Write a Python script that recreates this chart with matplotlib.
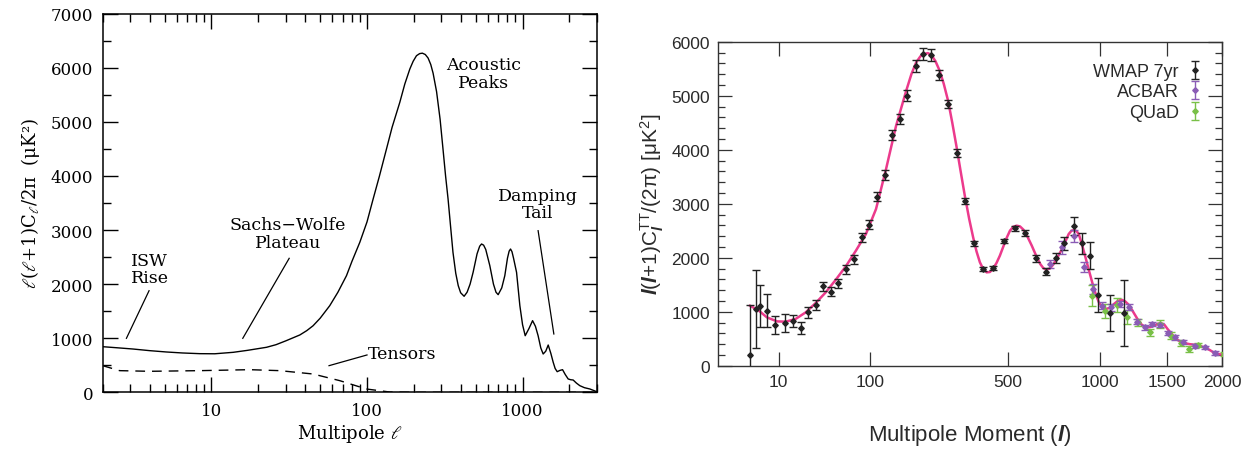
import numpy as np
import matplotlib
matplotlib.use("Agg")
import matplotlib.pyplot as plt
from matplotlib.ticker import FixedLocator, NullLocator, MultipleLocator

plt.rcParams['mathtext.fontset'] = 'custom'
plt.rcParams['mathtext.rm'] = 'Liberation Sans'
plt.rcParams['mathtext.it'] = 'Liberation Sans:italic'
plt.rcParams['mathtext.bf'] = 'Liberation Sans:bold'
plt.rcParams['mathtext.bfit'] = 'Liberation Sans:italic:bold'

# ---- left panel: theory spectrum ----
theory_l = [2, 2.5, 3.13, 4, 5.14, 6.5, 8.41, 10.5, 13.8, 17, 22.6, 26, 30, 37, 41, 45,
            50, 57.6, 65, 73.8, 80, 89.9,
            100, 109.5, 120, 133.4, 145, 162.5, 175, 188.5, 198, 208, 218, 227, 237,
            247, 257, 266, 280, 295, 308, 320, 332, 345, 357, 372, 386, 400, 421,
            440, 460, 481, 510, 530, 545, 562, 580, 616, 650, 675, 697, 735, 769,
            800, 820, 837, 855, 875, 915, 961, 1000, 1040, 1100, 1160, 1210, 1259,
            1310, 1357, 1410, 1462, 1520, 1574, 1620, 1670, 1740, 1808, 1880, 1965,
            2040, 2115, 2220, 2335, 2500, 2708, 3000]
theory_D = [843, 822, 800, 770, 745, 727, 714, 712, 739, 775, 832, 880, 950, 1060, 1140,
            1230, 1370, 1601, 1850, 2156, 2420,
            2773, 3150, 3574, 3990, 4498, 4900, 5361, 5700, 5977, 6120, 6223, 6262, 6270,
            6245, 6180, 6060, 5900, 5560, 5050, 4498, 4000, 3574, 3050, 2588, 2200, 1971,
            1840, 1775, 1850, 2000, 2218, 2560, 2700, 2742, 2720, 2640, 2341, 2000, 1850,
            1805, 1930, 2156, 2480, 2610, 2649, 2600, 2480, 2218, 1601, 1250, 1046, 1180,
            1324, 1220, 1046, 820, 708, 760, 874, 720, 555, 440, 381, 405, 418, 330, 246,
            232, 227, 170, 122, 85, 61, 11]

tensor_l = [2, 2.57, 4, 8.4, 17.6, 27.5, 45, 66.8, 99, 140, 200, 3000]
tensor_D = [492, 400, 388, 400, 418, 400, 338, 215, 61, 5, 0, 0]

# ---- right panel: WMAP 7yr / ACBAR / QUaD band powers ----
wmap_l = [2, 3, 4, 5.8, 8.7, 12.7, 16.9, 21.6, 26.7, 32.9, 39.7, 47.5, 55.5, 64.5,
          75.6, 86.9, 98.4, 111.5, 125.4, 140.5, 155.8, 172.9, 191.9, 211.3, 232.6,
          255.2, 280.9, 308.4, 336.4, 366.7, 401, 440, 484.6, 532.8, 580.5, 633, 682,
          733.6, 782.5, 836, 886, 938, 985, 1063, 1164]
wmap_D = [200, 1050, 1110, 1020, 755, 790, 833, 692, 988, 1124, 1470, 1370, 1526, 1785,
          1970, 2378, 2615, 3130, 3537, 4272, 4568, 5000, 5556, 5772, 5754,
          5383, 4846, 3939, 3044, 2266, 1790, 1815, 2309, 2544, 2451, 1988, 1741,
          1994, 2272, 2593, 2266, 2037, 1309, 976, 976]
wmap_err = [920, 730, 390, 300, 170, 160, 110, 110, 100, 95, 80, 85, 85, 85,
            85, 80, 80, 85, 90, 95, 100, 105, 110, 110, 105,
            90, 75, 65, 55, 45, 40, 40, 45, 50, 55, 60, 70,
            90, 120, 170, 200, 250, 320, 340, 610]

acbar_l = [705, 769, 836, 896, 955, 1014, 1074, 1135, 1200, 1263, 1319, 1379, 1441,
           1502, 1565, 1637, 1743, 1838, 1933]
acbar_D = [1883, 2192, 2396, 1822, 1420, 1111, 1080, 1142, 1080, 815, 711, 772, 754,
           605, 525, 433, 370, 340, 235]
acbar_err = [80, 120, 110, 90, 90, 60, 60, 55, 55, 50, 45, 45, 45, 40, 40, 35, 35, 30, 30]

quad_l = [949, 1032, 1116, 1188, 1270, 1357, 1441, 1530, 1617, 1690, 1773, 2014]
quad_D = [1296, 1019, 1124, 896, 803, 618, 772, 556, 420, 309, 383, 216]
quad_err = [190, 130, 130, 130, 70, 70, 80, 60, 50, 50, 45, 40]

model_l = [2, 3.7, 5.8, 9.3, 13, 18.4, 25.1, 32.9, 42, 52.6, 64.5, 78, 93, 109.7,
           128, 148, 170, 182, 193.4, 204, 214.6, 223, 232.6, 244, 256, 268, 281, 294,
           307, 321, 335, 350, 364, 376, 388.6, 401, 414, 427, 440, 453, 467, 481,
           495, 510, 525, 540, 555, 571, 590, 611, 632, 653, 668, 683, 703, 723, 746,
           769, 788, 807, 823, 840, 853, 866, 885, 907, 928, 949, 970, 992, 1013, 1036,
           1063, 1093, 1120, 1147, 1173, 1200, 1230, 1263, 1295, 1327, 1360, 1392,
           1420, 1447, 1475, 1502, 1537, 1573, 1610, 1646, 1690, 1736, 1780, 1829,
           1880, 1926, 1970, 2014]
model_D = [1111, 1019, 895, 821, 815, 864, 988, 1161, 1358, 1593, 1840, 2130, 2438, 2901,
           3642, 4444, 5093, 5400, 5617, 5730, 5772, 5790, 5754, 5640, 5463, 5220, 4907,
           4500, 4074, 3600, 3148, 2720, 2378, 2120, 1915, 1790, 1729, 1735, 1803, 1900,
           2037, 2200, 2360, 2500, 2575, 2593, 2580, 2519, 2390, 2222, 2040, 1883, 1810,
           1778, 1800, 1883, 2020, 2161, 2300, 2439, 2500, 2513, 2490, 2439, 2250, 2007,
           1770, 1544, 1340, 1174, 1080, 1050, 1070, 1142, 1200, 1222, 1190, 1124, 1000,
           864, 760, 711, 715, 741, 775, 790, 760, 679, 590, 494, 450, 420, 400, 389,
           370, 340, 290, 235, 215, 198]

fig = plt.figure(figsize=(12.59, 4.52), dpi=100)

# ================= left panel =================
serif = 'DejaVu Serif'
ax1 = fig.add_axes([0.0816, 0.1299, 0.3924, 0.8376])
ax1.plot(theory_l, theory_D, color='black', lw=1.0)
ax1.plot(tensor_l, tensor_D, color='black', lw=1.0, dashes=(7, 5))
ax1.set_xscale('log')
ax1.set_xlim(2, 3000)
ax1.set_ylim(0, 7000)
ax1.set_xticks([10, 100, 1000])
ax1.set_xticklabels(['10', '100', '1000'])
ax1.yaxis.set_major_locator(MultipleLocator(1000))
ax1.yaxis.set_minor_locator(MultipleLocator(500))
ax1.tick_params(which='both', direction='in', top=True, right=True, width=1.0)
ax1.tick_params(which='major', length=11, labelsize=12, pad=7)
ax1.tick_params(which='minor', length=6)
for lab in ax1.get_xticklabels() + ax1.get_yticklabels():
    lab.set_family(serif)
for s in ax1.spines.values():
    s.set_linewidth(1.1)
ax1.set_xlabel(r'Multipole $\ell$', family=serif, fontsize=13, labelpad=2,
               math_fontfamily='dejavuserif')
ax1.set_ylabel(r'$\ell(\ell$+1)C$_\ell$/2π  (μK²)', family=serif, fontsize=13,
               labelpad=6, math_fontfamily='dejavuserif')

notes = [('ISW\nRise', (4.0, 2280), (3.97, 1878), (2.84, 998)),
         ('Sachs\u2212Wolfe\nPlateau', (31, 2930), (31.6, 2477), (15.9, 998)),
         ('Acoustic\nPeaks', (564, 5900), None, None),
         ('Damping\nTail', (1254, 3480), (1259, 2988), (1589, 1078))]
for txt, pos, p0, p1 in notes:
    ax1.text(pos[0], pos[1], txt, family=serif, fontsize=12.5, ha='center',
             va='center', linespacing=1.05)
    if p0 is not None:
        ax1.plot([p0[0], p1[0]], [p0[1], p1[1]], color='black', lw=0.9)
ax1.text(101, 710, 'Tensors', family=serif, fontsize=12.5, ha='left', va='center')
ax1.plot([100, 57], [690, 492], color='black', lw=0.9)

# ================= right panel =================
sans = 'Liberation Sans'
ink = '#2a2a2a'
ax2 = fig.add_axes([0.5705, 0.1887, 0.4002, 0.7168])
ax2.set_xscale('function', functions=(lambda v: np.power(np.clip(v, 0, None), 0.4),
                                      lambda u: np.power(np.clip(u, 0, None), 2.5)))
ax2.plot(model_l, model_D, color='#ec3a8c', lw=1.8, zorder=2)
eb = dict(fmt='D', markersize=2.8, capsize=3.2, elinewidth=1.0, capthick=1.0, zorder=3)
ax2.errorbar(quad_l, quad_D, yerr=quad_err, color='#79c047', label='QUaD', **eb)
ax2.errorbar(acbar_l, acbar_D, yerr=acbar_err, color='#8a5cb5', label='ACBAR', **eb)
ax2.errorbar(wmap_l, wmap_D, yerr=wmap_err, color='#222222', label='WMAP 7yr', **eb)
ax2.set_xlim(0, 2000)
ax2.set_ylim(0, 6000)
ax2.xaxis.set_major_locator(FixedLocator([10, 100, 500, 1000, 1500, 2000]))
ax2.set_xticklabels(['10', '100', '500', '1000', '1500', '2000'])
ax2.xaxis.set_minor_locator(NullLocator())
ax2.yaxis.set_major_locator(MultipleLocator(1000))
ax2.yaxis.set_minor_locator(MultipleLocator(200))
ax2.tick_params(which='both', direction='in', top=True, right=True, colors='#333333',
                labelcolor=ink, width=0.9)
ax2.tick_params(which='major', length=10, labelsize=12.5, pad=6)
ax2.tick_params(which='minor', length=5)
for lab in ax2.get_xticklabels() + ax2.get_yticklabels():
    lab.set_family(sans)
for s in ax2.spines.values():
    s.set_color('#333333')
    s.set_linewidth(1.0)
ax2.set_xlabel(r'Multipole Moment ($\mathbfit{l}$)', family=sans, fontsize=16,
               color=ink, labelpad=24)
ax2.set_ylabel(r'$\mathbfit{l}$($\mathbfit{l}$+1)C$_{\mathbfit{l}}^{\mathrm{TT}}$/(2π) [μK$^2$]',
               family=sans, fontsize=15, color=ink, labelpad=4)

h, l = ax2.get_legend_handles_labels()
leg = ax2.legend(h[::-1], l[::-1], loc='upper right', bbox_to_anchor=(0.975, 0.957),
                 frameon=False, markerfirst=False, prop={'family': sans, 'size': 13},
                 handlelength=0.8, handletextpad=0.5, labelspacing=0.2, borderaxespad=0)
for t in leg.get_texts():
    t.set_color(ink)

fig.savefig('out.png', dpi=100)
